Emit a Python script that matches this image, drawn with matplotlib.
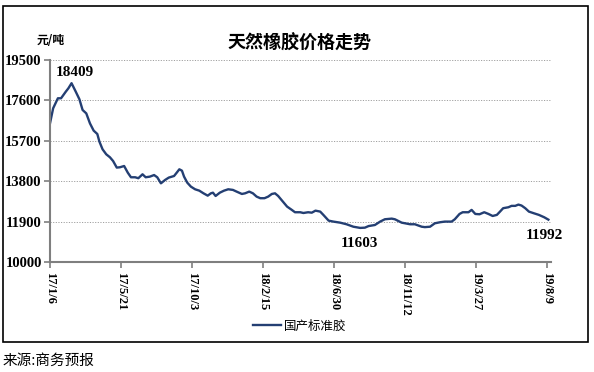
import matplotlib
matplotlib.use("Agg")
import matplotlib.pyplot as plt
from matplotlib.patches import Rectangle
import pandas as pd

plt.rcParams['font.family'] = ['Noto Sans CJK SC', 'DejaVu Sans']

# weekly-ish price of domestic standard rubber (yuan / ton)
dates = [
    "2017-01-06", "2017-01-12", "2017-01-21", "2017-01-27", "2017-02-05", "2017-02-10",
    "2017-02-16", "2017-02-24", "2017-03-03", "2017-03-09", "2017-03-16", "2017-03-23",
    "2017-03-30", "2017-04-06", "2017-04-10", "2017-04-16", "2017-04-23", "2017-04-30",
    "2017-05-06", "2017-05-13", "2017-05-19", "2017-05-27", "2017-06-03", "2017-06-09",
    "2017-06-17", "2017-06-23", "2017-07-01", "2017-07-07", "2017-07-15", "2017-07-23",
    "2017-07-29", "2017-08-05", "2017-08-13", "2017-08-20", "2017-08-30", "2017-09-04",
    "2017-09-09", "2017-09-14", "2017-09-18", "2017-09-24", "2017-10-01", "2017-10-09",
    "2017-10-17", "2017-10-25", "2017-11-02", "2017-11-08", "2017-11-12", "2017-11-17",
    "2017-11-25", "2017-12-03", "2017-12-11", "2017-12-20", "2017-12-27", "2018-01-06",
    "2018-01-12", "2018-01-20", "2018-01-27", "2018-02-03", "2018-02-10", "2018-02-18",
    "2018-02-25", "2018-03-04", "2018-03-10", "2018-03-16", "2018-03-25", "2018-04-02",
    "2018-04-11", "2018-04-17", "2018-04-27", "2018-05-03", "2018-05-12", "2018-05-19",
    "2018-05-26", "2018-06-04", "2018-06-10", "2018-06-20", "2018-06-29", "2018-07-12",
    "2018-07-24", "2018-08-06", "2018-08-19", "2018-08-28", "2018-09-04", "2018-09-16",
    "2018-09-26", "2018-10-05", "2018-10-18", "2018-10-24", "2018-11-06", "2018-11-22",
    "2018-12-01", "2018-12-14", "2018-12-20", "2018-12-30", "2019-01-08", "2019-01-18",
    "2019-01-27", "2019-02-09", "2019-02-15", "2019-02-24", "2019-03-02", "2019-03-13",
    "2019-03-19", "2019-03-26", "2019-04-03", "2019-04-12", "2019-04-20", "2019-04-28",
    "2019-05-06", "2019-05-12", "2019-05-18", "2019-05-28", "2019-06-03", "2019-06-10",
    "2019-06-16", "2019-06-22", "2019-06-29", "2019-07-06", "2019-07-15", "2019-07-25",
    "2019-08-04", "2019-08-12",
]
prices = [
    16520, 17230, 17700, 17700, 18010, 18170,
    18409, 18010, 17650, 17150, 16990, 16520,
    16180, 16020, 15660, 15300, 15065, 14925,
    14750, 14440, 14455, 14515, 14200, 13985,
    13985, 13940, 14125, 13985, 14015, 14090,
    13985, 13700, 13860, 13970, 14045, 14200,
    14360, 14295, 14015, 13735, 13545, 13420,
    13355, 13230, 13120, 13230, 13260, 13105,
    13260, 13355, 13420, 13390, 13310, 13200,
    13230, 13310, 13230, 13075, 13000, 13000,
    13075, 13200, 13230, 13105, 12840, 12605,
    12450, 12340, 12340, 12305, 12340, 12320,
    12415, 12370, 12215, 11945, 11900, 11850,
    11775, 11660, 11603, 11615, 11690, 11740,
    11900, 12010, 12040, 12010, 11850, 11775,
    11775, 11660, 11640, 11660, 11820, 11870,
    11900, 11900, 12010, 12260, 12340, 12340,
    12450, 12260, 12245, 12340, 12260, 12165,
    12215, 12370, 12530, 12575, 12640, 12640,
    12700, 12655, 12530, 12370, 12295, 12215,
    12105, 11992,
]
tick_dates = ["2017-01-06", "2017-05-21", "2017-10-03", "2018-02-15",
              "2018-06-30", "2018-11-12", "2019-03-27", "2019-08-09"]
tick_labels = ["17/1/6", "17/5/21", "17/10/3", "18/2/15",
               "18/6/30", "18/11/12", "19/3/27", "19/8/9"]
y_ticks = [10000, 11900, 13800, 15700, 17600, 19500]
series_name = "国产标准胶"

# call-out labels: (date, text anchor value, text)
callouts = [("2017-02-22", 18930, "18409"),
            ("2018-08-17", 10890, "11603"),
            ("2019-08-04", 11225, "11992")]

x = pd.to_datetime(dates)
line_color = "#243F73"
num_font = "Liberation Serif"

fig = plt.figure(figsize=(5.94, 3.72), dpi=100)
ax = fig.add_axes([50 / 594, 1 - 262 / 372, (551 - 50) / 594, (262 - 60) / 372])

ax.plot(x, prices, color=line_color, lw=1.7, label=series_name)

ax.set_ylim(10000, 19500)
ax.set_yticks(y_ticks)
ax.set_yticklabels([str(v) for v in y_ticks], family=num_font, fontweight="bold", fontsize=10.5)
ax.set_xlim(pd.Timestamp("2017-01-06"), pd.Timestamp("2017-01-06") + pd.Timedelta(days=953))
ax.set_xticks(pd.to_datetime(tick_dates))
ax.set_xticklabels(tick_labels, rotation=270, family=num_font, fontweight="bold", fontsize=9,
                   va="top", ha="center")

ax.grid(axis="y", color="#a0a0a0", linestyle=(0, (1.2, 1.5)), linewidth=0.7)
ax.set_axisbelow(True)
for side in ["top", "right"]:
    ax.spines[side].set_visible(False)
for side in ["left", "bottom"]:
    ax.spines[side].set_color("#7f7f7f")
    ax.spines[side].set_linewidth(1.5)
ax.tick_params(axis="y", length=4, width=1.2, color="#7f7f7f", pad=2)
ax.tick_params(axis="x", length=4, width=1.2, color="#7f7f7f", pad=3)

for d, v, txt in callouts:
    ax.text(pd.Timestamp(d), v, txt, family=num_font, fontweight="bold",
            fontsize=11, ha="center", va="center")

fig.text(51 / 594, 1 - 41 / 372, "元/吨", fontsize=8.5, fontweight="bold", ha="center", va="center")
fig.text(300 / 594, 1 - 43 / 372, "天然橡胶价格走势", fontsize=13, fontweight="bold",
         ha="center", va="center")

fig.legend(loc="center", bbox_to_anchor=(300 / 594, 1 - 326 / 372), frameon=False,
           fontsize=9, handlelength=2.2, handletextpad=0.3)

fig.add_artist(Rectangle((3 / 594, 1 - 342 / 372), (588 - 3) / 594, (342 - 6) / 372,
                         transform=fig.transFigure, fill=False, edgecolor="black", lw=1.2))
fig.text(3 / 594, 1 - 361 / 372, "来源:商务预报", fontsize=10.5, ha="left", va="center")

fig.savefig("out.png", dpi=100)
